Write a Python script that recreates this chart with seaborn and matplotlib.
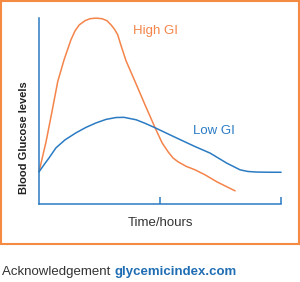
import matplotlib
matplotlib.use("Agg")
import matplotlib.pyplot as plt
import matplotlib.patches as patches
import seaborn as sns

# time in hours, glucose in arbitrary units (0-100)
high_x = [0.0, 0.058, 0.107, 0.155, 0.207, 0.264, 0.298, 0.333, 0.38, 0.421, 0.471, 0.521,
          0.562, 0.595, 0.624, 0.65, 0.678, 0.719, 0.793, 0.876, 0.959, 1.017, 1.066, 1.107,
          1.149, 1.215, 1.289, 1.372, 1.471, 1.545, 1.62]
high_y = [17.2, 33.3, 49.5, 65.8, 77.4, 88.2, 93, 96.2, 98.4, 99.5, 99.8, 99.5,
          98.4, 96.2, 93.8, 90.9, 85, 76.9, 65.8, 53.2, 40.9, 32.8, 28, 24.7,
          22.6, 20.2, 18.3, 15.6, 11.8, 9.4, 7]
low_x = [0.0, 0.041, 0.083, 0.14, 0.215, 0.306, 0.388, 0.471, 0.554, 0.636, 0.702, 0.802,
         0.876, 0.959, 1.124, 1.289, 1.413, 1.551, 1.661, 1.727, 1.8, 1.9, 2.0]
low_y = [17.2, 21, 24.7, 30.1, 34.4, 38.2, 41.1, 43.5, 45.4, 46.4, 46.5, 45.2,
         43.3, 40.9, 35.8, 30.8, 27.3, 21.9, 18.3, 17.4, 17.1, 17.0, 17.0]
x_ticks = [1, 2]

orange = "#F4844A"
border = "#F58A42"
blue = "#2B7BC3"
link = "#1F6DB3"
grey = "#333333"

sns.set_style("white")
plt.rcParams["font.family"] = ["Liberation Sans", "DejaVu Sans"]

fig = plt.figure(figsize=(3.0, 2.82), dpi=100)
ax = fig.add_axes([0.13, 0.277, 0.807, 0.66])

sns.lineplot(x=high_x, y=high_y, color=orange, linewidth=1.1, ax=ax, sort=False)
sns.lineplot(x=low_x, y=low_y, color=blue, linewidth=1.1, ax=ax, sort=False)
for line in ax.lines:
    line.set_clip_on(False)
    line.set_solid_joinstyle("round")

ax.set_xlim(0, 2)
ax.set_ylim(0, 100)
ax.set_xticks(x_ticks)
ax.set_xticklabels([])
ax.set_yticks([])
ax.tick_params(axis="x", direction="in", length=5, width=1.1, color=blue, bottom=True)
for side in ["top", "right"]:
    ax.spines[side].set_visible(False)
for side in ["left", "bottom"]:
    ax.spines[side].set_color(blue)
    ax.spines[side].set_linewidth(1.1)

ax.text(0.78, 93, "High GI", color=orange, fontsize=9.5, ha="left", va="center")
ax.text(1.27, 39, "Low GI", color=blue, fontsize=9.5, ha="left", va="center")
ax.set_xlabel("Time/hours", fontsize=9.5, color=grey, labelpad=6)
fig.text(0.08, 0.512, "Blood Glucose levels", rotation=90, fontsize=8, color="#222222",
         fontweight="bold", ha="center", va="center")

# orange frame around the chart
fig.patches.append(patches.Rectangle((0.004, 0.135), 0.992, 0.861, transform=fig.transFigure,
                                     fill=False, edgecolor=border, linewidth=1.5))

t = fig.text(0.007, 0.025, "Acknowledgement ", fontsize=9.5, color=grey, ha="left", va="baseline")
fig.canvas.draw()
bb = t.get_window_extent().transformed(fig.transFigure.inverted())
fig.text(bb.x1, 0.025, "glycemicindex.com", fontsize=9.5, color=link, fontweight="bold",
         ha="left", va="baseline")

fig.savefig("out.png", dpi=100)
